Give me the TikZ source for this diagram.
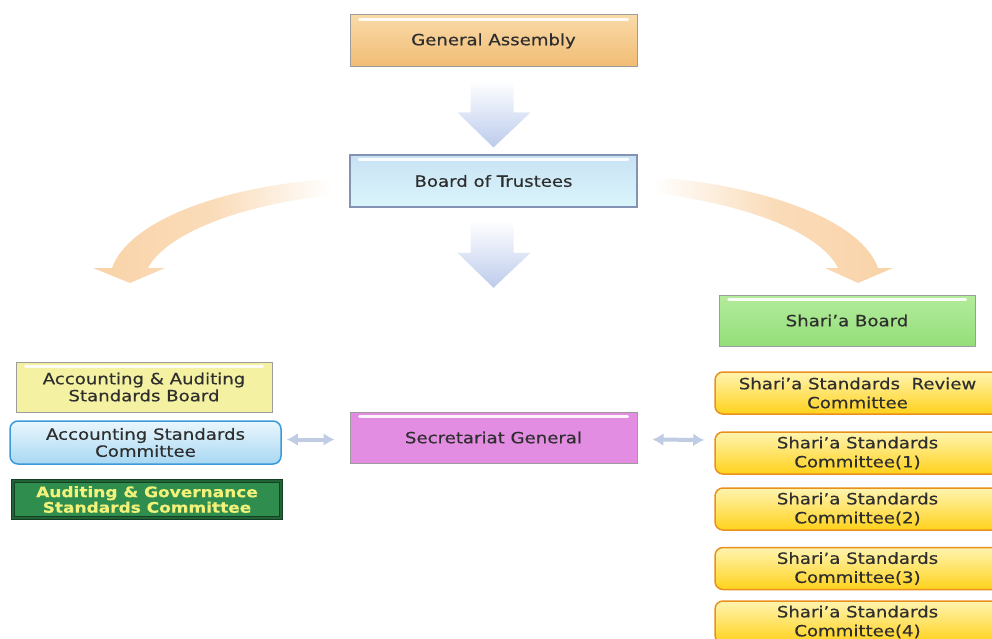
\documentclass[tikz,border=0pt]{standalone}
\usepackage{fontspec}
\setmainfont{DejaVu Sans}[FakeStretch=1.17,FakeBold=0.4]
\usetikzlibrary{arrows.meta,calc}
\definecolor{txt}{HTML}{2E2E2E}
\definecolor{gaT}{HTML}{F9DAA8}
\definecolor{gaB}{HTML}{F1BC74}
\definecolor{botT}{HTML}{C8E2F4}
\definecolor{botB}{HTML}{DAF5FB}
\definecolor{botD}{HTML}{8492B4}
\definecolor{secC}{HTML}{E28CE2}
\definecolor{sbT}{HTML}{B4EC9C}
\definecolor{sbB}{HTML}{94DE7A}
\definecolor{aasbC}{HTML}{F4F2A2}
\definecolor{ascT}{HTML}{EAF6FD}
\definecolor{ascB}{HTML}{A8D8F2}
\definecolor{ascD}{HTML}{3C9ADA}
\definecolor{agsC}{HTML}{2F8E4E}
\definecolor{agsD}{HTML}{153F22}
\definecolor{agsT}{HTML}{F2F27A}
\definecolor{ssT}{HTML}{FFF4B0}
\definecolor{ssB}{HTML}{FFD21C}
\definecolor{ssD}{HTML}{E8901E}
\definecolor{curveC}{HTML}{F9D3A8}
\definecolor{downC}{HTML}{BCCBEC}
\definecolor{dblC}{HTML}{BFCCE4}
\definecolor{frameC}{HTML}{9C9C9C}
\tikzset{
  base/.style={font=\fontsize{15.5}{17}\selectfont, text=txt, align=center, inner sep=0pt},
  flatbox/.style={base, draw=frameC, line width=1pt},
  roundbox/.style={base, rounded corners=8pt, line width=1.5pt},
  shine/.style={white, line width=3pt, line cap=round, opacity=0.9},
}
\begin{document}
\begin{tikzpicture}[x=1pt,y=-1pt]
\useasboundingbox (0,0) rectangle (992,639);

% boxes
\node[flatbox, top color=gaT, bottom color=gaB, minimum width=287pt, minimum height=52pt] (ga) at (493.5,41) {\raisebox{-2pt}{General Assembly}};
\node[flatbox, draw=botD, line width=1.6pt, top color=botT, bottom color=botB, minimum width=287pt, minimum height=52pt] (bot) at (493.5,181) {\raisebox{-2pt}{Board of Trustees}};
\node[flatbox, fill=secC, minimum width=287pt, minimum height=51pt] (sec) at (493.5,437.5) {Secretariat General};
\node[flatbox, top color=sbT, bottom color=sbB, minimum width=256pt, minimum height=51pt] (sb) at (847,320.5) {Shari’a Board};
\node[flatbox, fill=aasbC, minimum width=256pt, minimum height=50pt] (aasb) at (144,387) {Accounting \& Auditing\\Standards Board};
\node[roundbox, draw=ascD, top color=ascT, bottom color=ascB, minimum width=271pt, minimum height=43pt] (asc) at (145.5,442.5) {Accounting Standards\\Committee};
\node[base, draw=agsD, double=agsC!70!black, double distance=1.2pt, line width=1.2pt, fill=agsC, text=agsT, font=\fontsize{14.5}{15.5}\selectfont\bfseries, minimum width=268pt, minimum height=37pt] (agsc) at (147,499.5) {Auditing \& Governance\\Standards Committee};

\foreach \n/\y/\t in {ssr/393/{Shari’a Standards\ \ Review\\Committee},
                    ss1/453/{Shari’a Standards\\Committee(1)},
                    ss2/509/{Shari’a Standards\\Committee(2)},
                    ss3/568.5/{Shari’a Standards\\Committee(3)},
                    ss4/622/{Shari’a Standards\\Committee(4)}}{
  \node[roundbox, draw=ssD, top color=ssT, bottom color=ssB, font=\fontsize{15.5}{19}\selectfont, minimum width=285pt, minimum height=42pt] (\n) at (857.5,\y) {\t};
}

% shine lines
\foreach \n in {ga,bot,sec,sb,aasb}{
  \draw[shine] ($(\n.north west)+(10,5)$) -- ($(\n.north east)+(-10,5)$);
}

% down block arrows
\foreach \a/\b in {ga/bot,bot/sec}{
  \begin{scope}[shift={($(\a.south)+(0,13)$)}]
    \shade[top color=white, bottom color=downC]
      (-23,0) -- (20,0) -- (20,32) -- (37,32) -- (0,67) -- (-36,32) -- (-23,32) -- cycle;
  \end{scope}
}

% curved arrows from the board
\coordinate (lt) at ($(bot.west)+(-17,0)$);
\coordinate (rt) at ($(bot.east)+(16,0)$);
\shade[left color=curveC, right color=white, middle color=curveC!80]
  ($(lt)+(0,-2)$) .. controls (220,186) and (128,222) .. (112,268)
  -- (93,268) -- (130,283) -- (165,268) -- (148,268)
  .. controls (165,236) and (232,206) .. ($(lt)+(0,14)$) -- cycle;
\shade[right color=curveC, left color=white, middle color=curveC!80]
  ($(rt)+(0,-4)$) .. controls (770,186) and (862,222) .. (878,268)
  -- (893,268) -- (858,283) -- (825,268) -- (838,268)
  .. controls (822,236) and (758,206) .. ($(rt)+(0,12)$) -- cycle;

% double arrows
\draw[dblC, line width=4pt, {Latex[length=11pt,width=13pt]}-{Latex[length=11pt,width=13pt]}]
  ($(asc.east)+(5,-3)$) -- ($(sec.west)+(-15,2)$);
\draw[dblC, line width=4pt, {Latex[length=11pt,width=13pt]}-{Latex[length=11pt,width=13pt]}]
  ($(sec.east)+(15,2)$) -- ($(ss1.west)+(-10,-13)$);
\end{tikzpicture}
\end{document}
